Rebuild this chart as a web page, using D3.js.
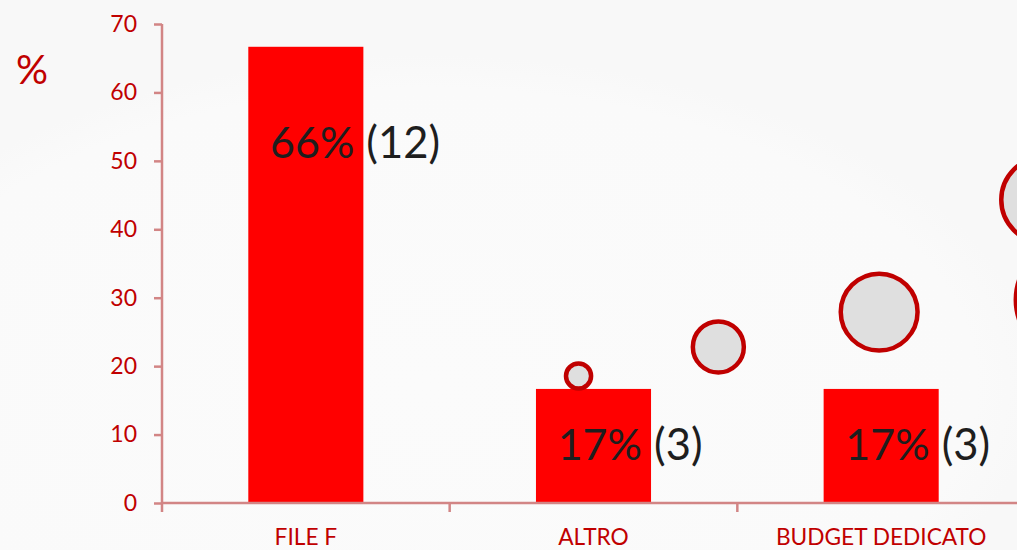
<!DOCTYPE html>
<html>
<head>
<meta charset="utf-8">
<script src="https://cdn.jsdelivr.net/npm/d3@7"></script>
<style>
  html, body { margin: 0; padding: 0; background: #f8f8f8; overflow: hidden; }
  svg { display: block; }
  text { font-family: Lato, "Open Sans", sans-serif; }
</style>
</head>
<body>
<svg id="chart" width="1017" height="550"></svg>
<script>
// ---- data ----
const categories = ["FILE F", "ALTRO", "BUDGET DEDICATO"];
const percentValues = [66.67, 16.67, 16.67];
const percentLabels = ["66%", "17%", "17%"];
const countLabels = ["(12)", "(3)", "(3)"];
const labelLevel = [50.4, 6.3, 6.3];        // value level at which labels sit
const yTicks = [0, 10, 20, 30, 40, 50, 60, 70];
// decorative bubbles (x in category units, y in %, size)
const bubbleX = [1.448, 1.934, 2.493, 3.066, 3.17];
const bubbleY = [18.56, 22.8, 27.9, 44.3, 29.7];
const bubbleSize = [6.3, 26, 59, 73, 135];

// ---- layout ----
const W = 1017, H = 550;
const mLeft = 162, mBottom = 503, mTop = 24, mRight = 1025;
const svg = d3.select("#chart");
const axisColor = "#d28585";
const red = "#c00000";

// background glow
const defs = svg.append("defs");
const grad = defs.append("radialGradient").attr("id", "bg")
  .attr("cx", "42%").attr("cy", "70%").attr("r", "60%");
grad.append("stop").attr("offset", "0%").attr("stop-color", "#fbfbfb");
grad.append("stop").attr("offset", "90%").attr("stop-color", "#fafafa");
grad.append("stop").attr("offset", "100%").attr("stop-color", "#f8f8f8");
svg.append("rect").attr("width", W).attr("height", H).attr("fill", "url(#bg)");

const x = d3.scaleBand().domain(categories).range([mLeft, mRight]).paddingInner(0).paddingOuter(0);
const xc = d3.scaleLinear().domain([0, categories.length]).range([mLeft, mRight]);
const y = d3.scaleLinear().domain([0, 70]).range([mBottom, mTop]);
const r = d3.scaleSqrt().domain([0, 100]).range([0, 50]);
const barW = x.bandwidth() * 0.4;

// bars
svg.append("g").selectAll("rect").data(categories).join("rect")
  .attr("x", d => x(d) + (x.bandwidth() - barW) / 2)
  .attr("y", (d, i) => y(percentValues[i]))
  .attr("width", barW)
  .attr("height", (d, i) => y(0) - y(percentValues[i]))
  .attr("fill", "#ff0000");

// bubbles
svg.append("g").selectAll("circle").data(bubbleX).join("circle")
  .attr("cx", d => xc(d))
  .attr("cy", (d, i) => y(bubbleY[i]))
  .attr("r", (d, i) => r(bubbleSize[i]))
  .attr("fill", "#dfdfdf")
  .attr("stroke", red)
  .attr("stroke-width", 4.5);

// y axis
const yAxis = svg.append("g").attr("transform", `translate(${mLeft},0)`)
  .call(d3.axisLeft(y).tickValues(yTicks).tickSize(8).tickPadding(17).tickSizeOuter(0));
yAxis.select(".domain").attr("stroke", axisColor).attr("stroke-width", 2.5)
  .attr("d", `M0,${mTop}V${mBottom + 9}`);
yAxis.selectAll(".tick line").attr("stroke", axisColor).attr("stroke-width", 2.5);
yAxis.selectAll(".tick text").attr("fill", red).style("font-size", "23px")
  .style("font-family", "Lato, 'Open Sans', sans-serif");

// x axis
const xAxis = svg.append("g").attr("transform", `translate(0,${mBottom})`)
  .call(d3.axisBottom(x).tickSize(0).tickPadding(26));
xAxis.select(".domain").attr("stroke", axisColor).attr("stroke-width", 2.5)
  .attr("d", `M${mLeft},0H${W + 5}`);
xAxis.selectAll(".tick text").attr("fill", red).style("font-size", "22.7px")
  .style("font-family", "Lato, 'Open Sans', sans-serif");
// boundary ticks
svg.append("g").selectAll("line").data(categories.slice(1)).join("line")
  .attr("x1", d => x(d)).attr("x2", d => x(d))
  .attr("y1", mBottom).attr("y2", mBottom + 9)
  .attr("stroke", axisColor).attr("stroke-width", 2.5);

// bar labels
const lab = svg.append("g");
lab.selectAll("text.pct").data(categories).join("text").attr("class", "pct")
  .attr("x", d => x(d) + (x.bandwidth() + barW) / 2 - 9)
  .attr("y", (d, i) => y(labelLevel[i]))
  .attr("text-anchor", "end")
  .attr("fill", "#1e1e1e")
  .style("font-size", "43px")
  .text((d, i) => percentLabels[i]);
lab.selectAll("text.cnt").data(categories).join("text").attr("class", "cnt")
  .attr("x", d => x(d) + (x.bandwidth() + barW) / 2 + 3)
  .attr("y", (d, i) => y(labelLevel[i]))
  .attr("text-anchor", "start")
  .attr("fill", "#1e1e1e")
  .style("font-size", "43.5px")
  .text((d, i) => countLabels[i]);

// unit label
svg.append("text").attr("x", 32).attr("y", 84).attr("text-anchor", "middle")
  .attr("fill", red).style("font-size", "40px").text("%");
</script>
</body>
</html>
